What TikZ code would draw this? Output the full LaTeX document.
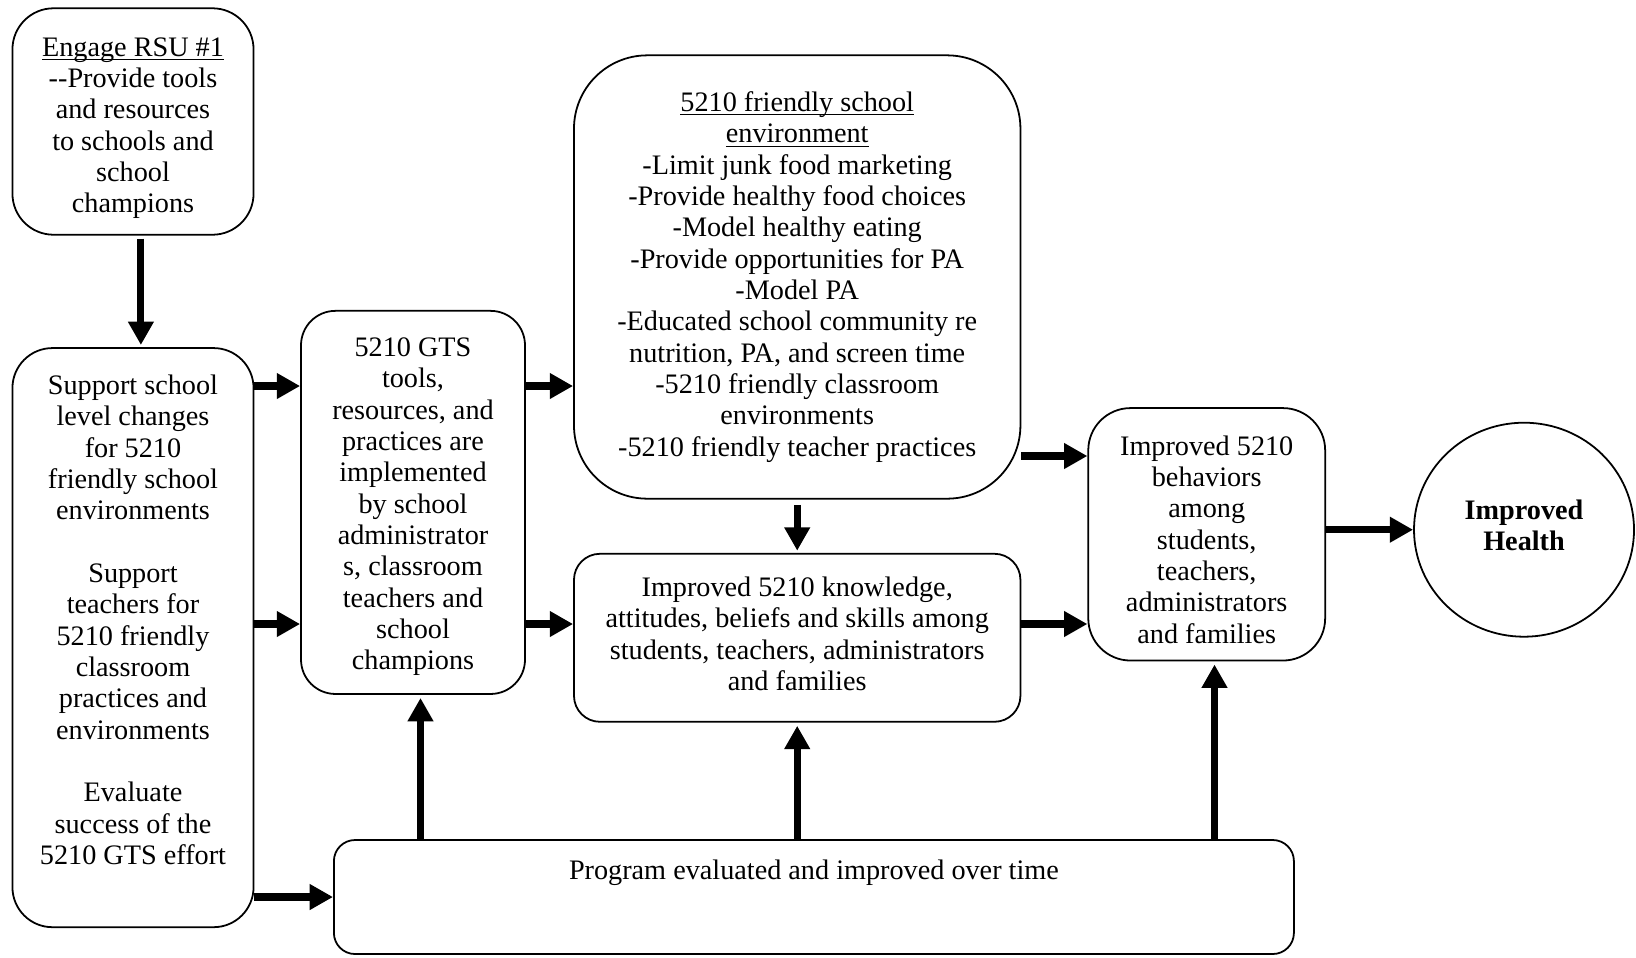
\documentclass[tikz,border=0pt]{standalone}
\usepackage{fontspec}
\setmainfont{Liberation Serif}
\usetikzlibrary{positioning,shapes.geometric,arrows.meta}
\newcommand\ulin[1]{\underline{\raisebox{0pt}[\height][0pt]{#1}}}
\newcommand\up[1]{\rule{0pt}{#1}}
\newcommand\down[1]{\rule[-#1]{0pt}{0pt}}

\begin{document}
\begin{tikzpicture}[auto, x=0.45pt, y=-0.45pt, node distance=1cm,
  >={Triangle[width=11pt,length=10.5pt]},
  font=\fontsize{12.7}{14.1}\selectfont,
  box/.style={draw, line width=0.8pt, align=center, inner sep=2pt},
  flow/.style={->, line width=3.2pt}]

  \useasboundingbox (0,0) rectangle (1636,957);

  \node [box, rounded corners=18.5pt, minimum width=108.5pt, minimum height=101.9pt] (engage) at (133,121.5)
      {\up{14.3pt}\ulin{Engage RSU \#1}\\-{}-Provide tools\\and resources\\to schools and\\school\\champions};

  \node [box, below=50.2pt of engage, rounded corners=18pt, minimum width=108.5pt, minimum height=260.6pt] (support)
      {Support school\\level changes\\for 5210\\friendly school\\environments\\[14.1pt]Support\\teachers for\\5210 friendly\\classroom\\practices and\\environments\\[14.1pt]Evaluate\\success of the\\5210 GTS effort\\[2pt]~};

  \node [box, rounded corners=15.5pt, minimum width=100.8pt, minimum height=172.4pt] (tools) at (413,502.4)
      {\up{12.5pt}5210 GTS\\tools,\\resources, and\\practices are\\implemented\\by school\\administrator\\s, classroom\\teachers and\\school\\champions};

  \node [box, rounded corners=33pt, minimum width=200.9pt, minimum height=199.5pt] (env) at (797.2,277)
      {\ulin{5210 friendly school}\\\ulin{environment}\\-Limit junk food marketing\\-Provide healthy food choices\\-Model healthy eating\\-Provide opportunities for PA\\-Model PA\\-Educated school community re\\nutrition, PA, and screen time\\-5210 friendly classroom\\environments\\-5210 friendly teacher practices};

  \node [box, below=24pt of env, rounded corners=11.7pt, minimum width=200.9pt, minimum height=75.6pt] (know)
      {Improved 5210 knowledge,\\attitudes, beliefs and skills among\\students, teachers, administrators\\and families\down{3.8pt}};

  \node [box, rounded corners=19pt, minimum width=106.6pt, minimum height=113.6pt] (behave) at (1206.7,534.3)
      {\up{13.4pt}Improved 5210\\behaviors\\among\\students,\\teachers,\\administrators\\and families};

  \node [box, ellipse, minimum width=99pt, minimum height=96.3pt, font=\fontsize{12.7}{14.1}\selectfont\bfseries] (health) at (1524,529.7)
      {Improved\\Health\down{3.8pt}};

  \node [box, rounded corners=9.5pt, minimum width=432pt, minimum height=51.3pt, text depth=25pt] (eval) at (813.9,897)
      {Program evaluated and improved over time};

  \coordinate (upper) at (0,386);
  \coordinate (lower) at (0,624);
  \coordinate (mid) at (0,456);
  \coordinate (colA) at (140.9,0);
  \coordinate (colC) at (420.5,0);
  \coordinate (colF) at (1214.5,0);

  \draw [flow, shorten <=1.4pt, shorten >=1pt] (engage.south -| colA) -- (support.north -| colA);
  \draw [flow] (support.east |- upper) -- (tools.west |- upper);
  \draw [flow] (support.east |- lower) -- (tools.west |- lower);
  \draw [flow] (support.east |- eval.west) -- (eval.west);
  \draw [flow] (tools.east |- upper) -- (env.west |- upper);
  \draw [flow] (tools.east |- lower) -- (know.west |- lower);
  \draw [flow, shorten <=2.4pt, shorten >=1pt] (env.south) -- (know.north);
  \draw [flow] (env.east |- mid) -- (behave.west |- mid);
  \draw [flow] (know.east |- lower) -- (behave.west |- lower);
  \draw [flow] (behave.east |- health.west) -- (health.west);
  \draw [flow, shorten >=1.4pt] (eval.north -| colC) -- (tools.south -| colC);
  \draw [flow, shorten >=1.4pt] (eval.north -| know) -- (know.south);
  \draw [flow, shorten >=1.4pt] (eval.north -| colF) -- (behave.south -| colF);
\end{tikzpicture}
\end{document}
